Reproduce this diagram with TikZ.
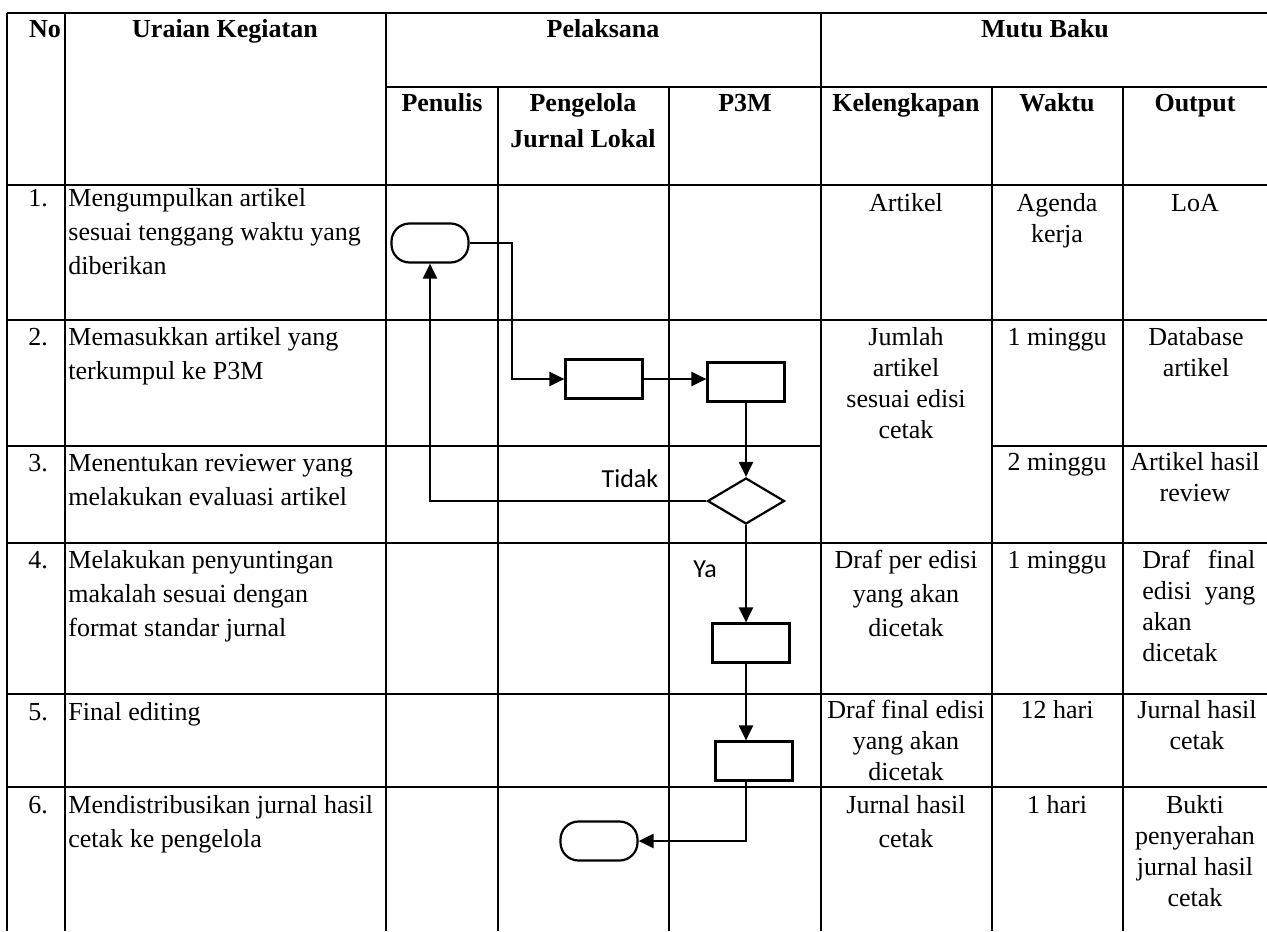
\documentclass[tikz,border=0pt]{standalone}
\usepackage{fontspec}
\setmainfont{Liberation Serif}
\newfontfamily\labelfont{Carlito}
\usetikzlibrary{arrows.meta,shapes.geometric}

\begin{document}
\begin{tikzpicture}[x=0.5pt,y=-0.5pt,>={Triangle[length=7.5pt,width=7pt]},
    grid line/.style={line width=0.6pt},
    flow/.style={line width=1.1pt},
    cell/.style={anchor=base,inner sep=0pt,align=center,font=\fontsize{13}{15.5}\selectfont},
    head/.style={cell,font=\bfseries\fontsize{13}{18}\selectfont},
    task/.style={cell,anchor=base west,align=left,font=\fontsize{13}{17}\selectfont},
    lbl/.style={anchor=base,inner sep=0pt,font=\labelfont\fontsize{13}{15}\selectfont},
    proc node/.style={rectangle,draw,line width=1.1pt,minimum width=38.5pt,minimum height=19.5pt,inner sep=0pt},
    term node/.style={proc node,rounded corners=9pt},
    dec node/.style={diamond,draw,line width=1.1pt,minimum width=38.5pt,minimum height=23pt,inner sep=0pt}]

  \useasboundingbox (0,0) rectangle (1267,931);

  % table rules
  \draw[grid line] (7,13) -- (1267,13)
                   (386,87) -- (1267,87)
                   (7,185) -- (1267,185)
                   (7,320) -- (1267,320)
                   (7,446) -- (821,446) (992,446) -- (1267,446)
                   (7,543) -- (1267,543)
                   (7,694) -- (1267,694)
                   (7,787) -- (1267,787);
  \draw[grid line] (7,13) -- (7,931)
                   (65,13) -- (65,931)
                   (386,13) -- (386,931)
                   (821,13) -- (821,931)
                   (498,87) -- (498,931)
                   (669,87) -- (669,931)
                   (992,87) -- (992,931)
                   (1123,87) -- (1123,931);

  % header (multi-line nodes sit on their last line)
  \node[head] (hno) at (45,38) {No};
  \node[head] (hur) at (225,38) {Uraian Kegiatan};
  \node[head] (hpel) at (603,38) {Pelaksana};
  \node[head] (hmutu) at (1045,38) {Mutu Baku};
  \node[head] (hpen) at (442,112) {Penulis};
  \node[head] (hpjl) at (583,148) {Pengelola\\Jurnal Lokal};
  \node[head] (hp3m) at (745,112) {P3M};
  \node[head] (hkel) at (906,112) {Kelengkapan};
  \node[head] (hwkt) at (1057,112) {Waktu};
  \node[head] (hout) at (1195,112) {Output};

  % rows
  \node[task] (no1) at (28,206) {1.};
  \node[task] (ur1) at (68,274) {Mengumpulkan artikel\\sesuai tenggang waktu yang\\diberikan};
  \node[cell] (kel1) at (906,211) {Artikel};
  \node[cell] (wkt1) at (1057,242) {Agenda\\kerja};
  \node[cell] (out1) at (1195,211) {LoA};

  \node[task] (no2) at (28,345) {2.};
  \node[task] (ur2) at (68,379) {Memasukkan artikel yang\\terkumpul ke P3M};
  \node[cell] (kel2) at (906,438) {Jumlah\\artikel\\sesuai edisi\\cetak};
  \node[cell] (wkt2) at (1057,345) {1 minggu};
  \node[cell] (out2) at (1196,376) {Database\\artikel};

  \node[task] (no3) at (28,471) {3.};
  \node[task] (ur3) at (68,505) {Menentukan reviewer yang\\melakukan evaluasi artikel};
  \node[cell] (wkt3) at (1057,470) {2 minggu};
  \node[cell] (out3) at (1195,501) {Artikel hasil\\review};

  \node[task] (no4) at (28,568) {4.};
  \node[task] (ur4) at (68,636) {Melakukan penyuntingan\\makalah sesuai dengan\\format standar jurnal};
  \node[cell,font=\fontsize{13}{17}\selectfont] (kel4) at (906,636) {Draf per edisi\\yang akan\\dicetak};
  \node[cell] (wkt4) at (1057,568) {1 minggu};
  \node[cell,anchor=base west,align=left,text width=56.5pt] (out4) at (1142,568)
       {Draf\hfill final\\edisi\hfill yang\\akan\\dicetak};

  \node[task] (no5) at (28,720) {5.};
  \node[task] (ur5) at (68,720) {Final editing};
  \node[cell] (kel5) at (906,780) {Draf final edisi\\yang akan\\dicetak};
  \node[cell] (wkt5) at (1057,718) {12 hari};
  \node[cell] (out5) at (1197,749) {Jurnal hasil\\cetak};

  \node[task] (no6) at (28,813) {6.};
  \node[task] (ur6) at (68,847) {Mendistribusikan jurnal hasil\\cetak ke pengelola};
  \node[cell,font=\fontsize{13}{17}\selectfont] (kel6) at (906,847) {Jurnal hasil\\cetak};
  \node[cell] (wkt6) at (1057,813) {1 hari};
  \node[cell] (out6) at (1195,906) {Bukti\\penyerahan\\jurnal hasil\\cetak};

  % flow
  \node[term node] (start) at (430,243) {};
  \node[proc node] (kumpul) at (604,379) {};
  \node[proc node] (masuk) at (746,382) {};
  \node[dec node] (review) at (746,501) {};
  \node[proc node] (sunting) at (751,643) {};
  \node[proc node] (editing) at (754,761) {};
  \node[term node] (finish) at (599,841) {};
  \coordinate (bend) at (512,243);

  \node[lbl] (tidak) at (630,487) {Tidak};
  \node[lbl] (ya) at (705,577) {Ya};

  \draw[flow,->] (start.east) -- (bend) |- (kumpul.west);
  \draw[flow,->] (kumpul.east) -- (kumpul.east -| masuk.west);
  \draw[flow,->] (masuk.south) -- (review.north);
  \draw[flow,->] (review.west) -| (start.south);
  \draw[flow,->] (review.south) -- (review.south |- sunting.north);
  \draw[flow,->] (review.south |- sunting.south) -- (review.south |- editing.north);
  \draw[flow,->] (review.south |- editing.south) |- (finish.east);
\end{tikzpicture}
\end{document}
